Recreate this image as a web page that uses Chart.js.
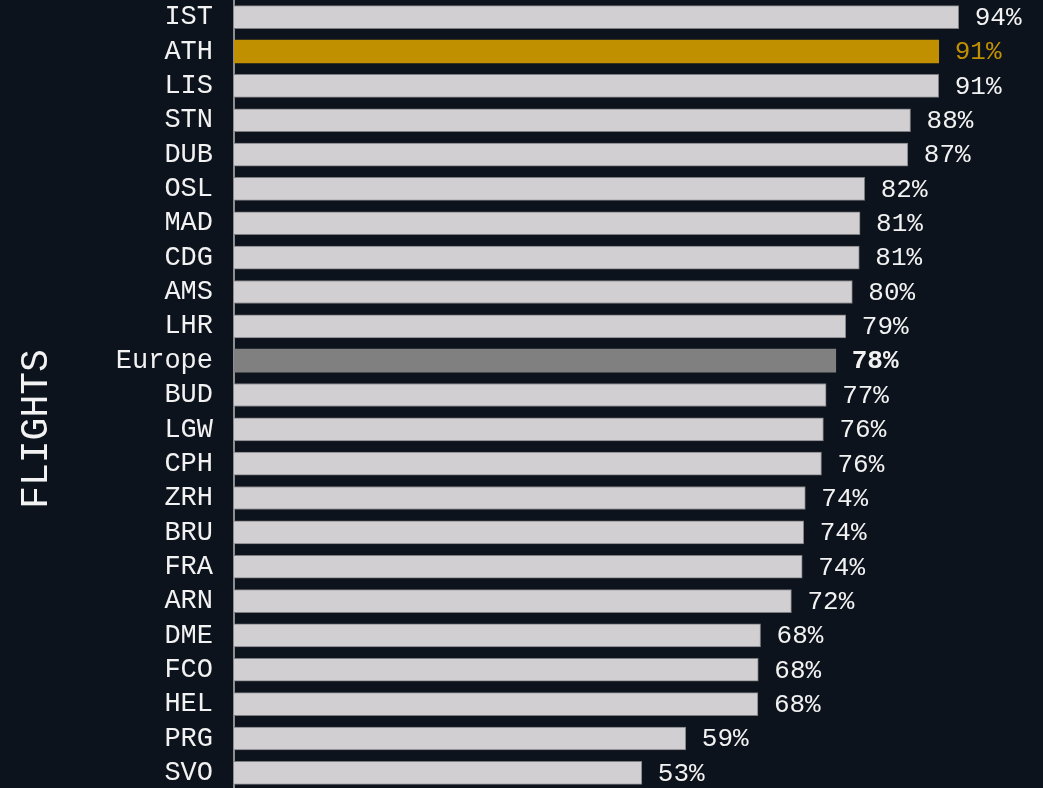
<!DOCTYPE html>
<html>
<head>
<meta charset="utf-8">
<script src="https://cdn.jsdelivr.net/npm/chart.js@4/dist/chart.umd.min.js"></script>
<style>
  html, body { margin: 0; padding: 0; background: #0d131d; overflow: hidden; }
  #wrap { width: 1043px; height: 790px; position: relative; }
</style>
</head>
<body>
<div id="wrap"><canvas id="c"></canvas></div>
<script>
const categories = ["IST","ATH","LIS","STN","DUB","OSL","MAD","CDG","AMS","LHR","Europe","BUD","LGW","CPH","ZRH","BRU","FRA","ARN","DME","FCO","HEL","PRG","SVO"];
const shares = [94.0,91.4,91.4,87.75,87.4,81.8,81.2,81.1,80.2,79.35,78.05,76.8,76.45,76.2,74.1,73.9,73.7,72.3,68.3,68.0,67.95,58.6,52.9];
const highlight = "ATH";
const average = "Europe";
const axisTitle = "FLIGHTS";

const BG = "#0d131d";
const LIGHT = "#d1cfd1";
const GOLD = "#c09000";
const GREY = "#808080";
const TEXT = "#f2f2f2";
const FONT = "'Liberation Mono', 'DejaVu Sans Mono', monospace";

const fills = categories.map(c => c === highlight ? GOLD : c === average ? GREY : LIGHT);
const borders = categories.map(c => (c === highlight || c === average) ? 0 : 1);

const valueLabels = {
  id: 'valueLabels',
  afterDatasetsDraw(chart) {
    const ctx = chart.ctx;
    const meta = chart.getDatasetMeta(0);
    ctx.save();
    ctx.textAlign = 'left';
    ctx.textBaseline = 'middle';
    meta.data.forEach((bar, i) => {
      const cat = categories[i];
      const bold = cat === average;
      ctx.font = (bold ? 'bold ' : '') + '26px ' + FONT;
      ctx.fillStyle = cat === highlight ? GOLD : TEXT;
      ctx.fillText(Math.round(shares[i]) + '%', bar.x + 16, bar.y + 1);
    });
    ctx.restore();
  }
};

const sideTitle = {
  id: 'sideTitle',
  afterDraw(chart) {
    const ctx = chart.ctx;
    ctx.save();
    ctx.translate(37, 429);
    ctx.rotate(-Math.PI / 2);
    ctx.font = '38px ' + FONT;
    ctx.fillStyle = TEXT;
    ctx.textAlign = 'center';
    ctx.textBaseline = 'middle';
    ctx.fillText(axisTitle, 0, 0);
    ctx.restore();
  }
};

new Chart(document.getElementById('c'), {
  type: 'bar',
  data: {
    labels: categories,
    datasets: [{
      data: shares,
      backgroundColor: fills,
      borderColor: '#7d7d80',
      borderWidth: borders,
      borderSkipped: 'left',
      barThickness: 23
    }]
  },
  options: {
    indexAxis: 'y',
    responsive: true,
    maintainAspectRatio: false,
    animation: false,
    layout: { padding: { left: 0, right: 38, top: 0, bottom: 0 } },
    plugins: { legend: { display: false }, tooltip: { enabled: false } },
    scales: {
      x: { display: false, min: 0, max: 100 },
      y: {
        afterFit(scale) {
          scale.width = 234;
          scale.paddingTop = 0;
          scale.paddingBottom = 0;
        },
        grid: { display: false, drawTicks: false },
        border: { display: true, color: '#8e8e8e', width: 2 },
        ticks: {
          color: TEXT,
          padding: 21,
          autoSkip: false,
          font: { family: FONT, size: 27 }
        }
      }
    }
  },
  plugins: [valueLabels, sideTitle]
});
</script>
</body>
</html>
